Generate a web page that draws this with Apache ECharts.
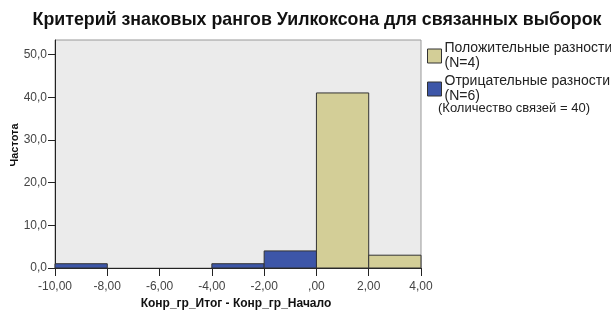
<!DOCTYPE html>
<html><head><meta charset="utf-8">
<script src="https://cdn.jsdelivr.net/npm/echarts@6/dist/echarts.min.js"></script>
<style>html,body{margin:0;padding:0;background:#fff}#c{width:611px;height:311px}</style>
</head><body><div id="c"></div>
<script>
const binStart = [-10, -8, -6, -4, -2, 0, 2];
const binEnd   = [-8, -6, -4, -2, 0, 2, 4];
const positiveCounts = [0, 0, 0, 0, 0, 41, 3];
const negativeCounts = [1, 0, 0, 1, 4, 0, 0];
const yTicks = [0, 10, 20, 30, 40, 50];
const xTicks = [-10, -8, -6, -4, -2, 0, 2, 4];
const positiveName = 'Положительные разности\n(N=4)';
const negativeName = 'Отрицательные разности\n(N=6)';
const tiesNote = '(Количество связей = 40)';
const yName = 'Частота';
const xName = 'Конр_гр_Итог - Конр_гр_Начало';

function mkData(counts){
  const d=[];
  counts.forEach((c,i)=>{ if(c>0) d.push([binStart[i], binEnd[i], c]); });
  return d;
}
function renderBar(color){
  return function(params, api){
    const p0 = api.coord([api.value(0), api.value(2)]);
    const p1 = api.coord([api.value(1), 0]);
    return {type:'rect', shape:{x:p0[0], y:p0[1], width:p1[0]-p0[0], height:p1[1]-p0[1]},
      style:{fill:color, stroke:'#333', lineWidth:1}};
  };
}
const FONT = '"Liberation Sans", Arial, sans-serif';
const chart = echarts.init(document.getElementById('c'), null, {renderer:'canvas'});
chart.setOption({
  animation:false,
  textStyle:{fontFamily:FONT},
  title:{text:'Критерий знаковых рангов Уилкоксона для связанных выборок', left:312, textAlign:'center', top:6,
    textStyle:{fontFamily:FONT, fontSize:17.8, fontWeight:'bold', color:'#111'}},
  grid:{left:55, right:190, top:40, bottom:43, outerBoundsMode:'none', containLabel:false,
    show:true, backgroundColor:'#EBEBEB', borderColor:'#999', borderWidth:1},
  legend:{orient:'vertical', left:427, top:41, itemWidth:14, itemHeight:14, itemGap:3, icon:'rect', padding:0,
    textStyle:{fontFamily:FONT, fontSize:14, color:'#222', lineHeight:15, padding:[0,0,0,-2]},
    data:[{name:positiveName, itemStyle:{borderColor:'#333', borderWidth:1}}, {name:negativeName, itemStyle:{borderColor:'#333', borderWidth:1}}]},
  graphic:[
    {type:'text', left:438, top:102, style:{text:tiesNote, font:'13px '+FONT, fill:'#222'}},
    {type:'text', x:15, y:145, rotation:Math.PI/2, style:{text:yName, font:'bold 11px '+FONT, fill:'#111', align:'center', verticalAlign:'middle'}}
  ],
  xAxis:{type:'value', min:-10, max:4, interval:2, name:xName, nameLocation:'middle', nameGap:23,
    nameTextStyle:{fontFamily:FONT, fontSize:12, fontWeight:'bold', color:'#111', padding:[0,4,0,0]},
    axisLine:{show:true, onZero:false, lineStyle:{color:'#222', width:1}},
    axisTick:{show:true, length:8, lineStyle:{color:'#222'}, customValues:xTicks},
    axisLabel:{fontFamily:FONT, fontSize:12, color:'#444', margin:13, customValues:xTicks,
      formatter:v=> v===0 ? ',00' : v.toFixed(2).replace('.',',')},
    splitLine:{show:false}},
  yAxis:{type:'value', min:0, max:53.4,
    axisLine:{show:true, onZero:false, lineStyle:{color:'#222', width:1}},
    axisTick:{show:true, length:7, lineStyle:{color:'#222'}, customValues:yTicks},
    axisLabel:{fontFamily:FONT, fontSize:12, color:'#444', margin:8, customValues:yTicks,
      formatter:v=> v.toFixed(1).replace('.',',')},
    splitLine:{show:false}},
  series:[
    {name:positiveName, type:'custom', renderItem:renderBar('#D3CE97'), itemStyle:{color:'#D3CE97'}, encode:{x:[0,1], y:2}, data:mkData(positiveCounts)},
    {name:negativeName, type:'custom', renderItem:renderBar('#3D56A8'), itemStyle:{color:'#3D56A8'}, encode:{x:[0,1], y:2}, data:mkData(negativeCounts)}
  ]
});
</script></body></html>
